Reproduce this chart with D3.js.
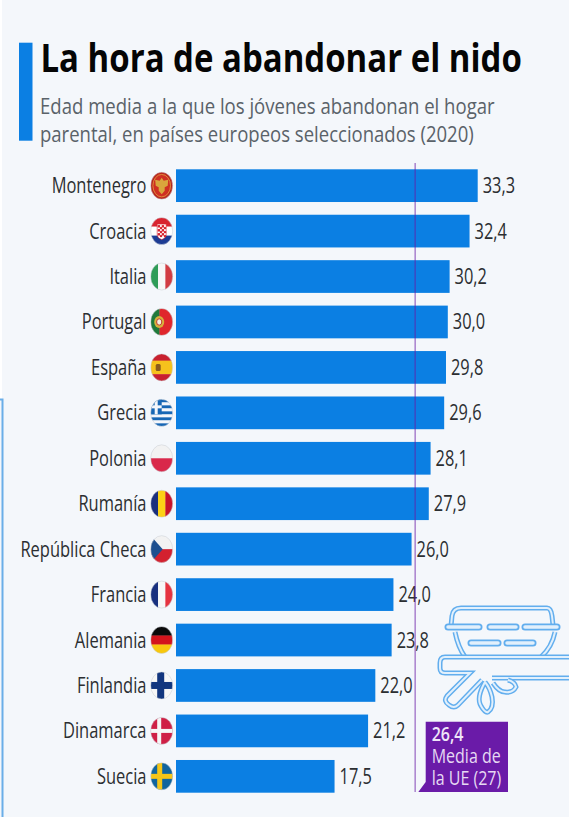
<!DOCTYPE html>
<html>
<head>
<meta charset="utf-8">
<script src="https://cdn.jsdelivr.net/npm/d3@7"></script>
<style>
  html, body { margin: 0; padding: 0; background: #f4f7fb; }
  svg { display: block; font-family: "Open Sans", sans-serif; }
</style>
</head>
<body>
<svg id="chart" width="569" height="817"></svg>
<script>
const countries = ['Montenegro', 'Croacia', 'Italia', 'Portugal', 'España', 'Grecia', 'Polonia', 'Rumanía',
  'República Checa', 'Francia', 'Alemania', 'Finlandia', 'Dinamarca', 'Suecia'];
const ages = [33.3, 32.4, 30.2, 30.0, 29.8, 29.6, 28.1, 27.9, 26.0, 24.0, 23.8, 22.0, 21.2, 17.5];
const euAverage = 26.4;
const euLabel = ['Media de', 'la UE (27)'];
const title = 'La hora de abandonar el nido';
const subtitle = ['Edad media a la que los jóvenes abandonan el hogar', 'parental, en países europeos seleccionados (2020)'];

const BLUE = '#0b7fe3';
const PURPLE = '#6a1ba8';
const fmt = (v) => v.toFixed(1).replace('.', ',');

const svg = d3.select('#chart');

let x = d3.scaleLinear().domain([0, 33.3]).range([176, 477.7]);
let y = d3.scaleBand().domain(countries).range([169.3, 792.7]).paddingInner(0.28).paddingOuter(0);

// white strip down the left edge, with the stray blue frame line below it
svg.append('rect').attr('x', 0).attr('y', 0).attr('width', 2).attr('height', 399).attr('fill', '#fff');
svg.append('path').attr('d', 'M0,399.5H2.5V817').attr('fill', 'none').attr('stroke', '#6aaee8').attr('stroke-width', 2);

// heading
svg.append('rect').attr('x', 19).attr('y', 42.7).attr('width', 13.5).attr('height', 98).attr('fill', BLUE);

// the reference is squeezed sideways, so measure each line and scale it to its width
function fitted(text, xPos, yPos, width, size, weight, color) {
  let t = svg.append('text')
    .attr('font-size', size).attr('font-weight', weight).attr('fill', color)
    .text(text);
  let k = width / t.node().getComputedTextLength();
  t.attr('transform', `translate(${xPos},${yPos}) scale(${k},1)`);
  return t;
}
fitted(title, 40.5, 72, 481.5, 40, 700, '#050505');
fitted(subtitle[0], 40, 113.5, 455, 22, 400, '#5a6269');
fitted(subtitle[1], 40, 142, 434, 22, 400, '#5a6269');

// bars
svg.append('g').selectAll('rect')
  .data(countries)
  .join('rect')
  .attr('x', x(0))
  .attr('y', (d) => y(d))
  .attr('width', (d, i) => x(ages[i]) - x(0))
  .attr('height', y.bandwidth())
  .attr('fill', BLUE);

// country names
svg.append('g').selectAll('text')
  .data(countries)
  .join('text')
  .attr('transform', (d) => `translate(146.5,${y(d) + y.bandwidth() / 2 + 7.5}) scale(0.785,1)`)
  .attr('text-anchor', 'end')
  .attr('font-size', 21)
  .attr('fill', '#2b2e31')
  .text((d) => d);

// value labels
svg.append('g').selectAll('text')
  .data(ages)
  .join('text')
  .attr('transform', (d, i) => `translate(${x(d) + 5},${y(countries[i]) + y.bandwidth() / 2 + 7.5}) scale(0.78,1)`)
  .attr('font-size', 21)
  .attr('fill', '#2b2e31')
  .text(fmt);

// flags, drawn in a box of 22 x 27 around the centre of the ellipse
const W = 11, H = 13.5;
function hStripes(g, colors, weights) {
  let total = d3.sum(weights), top = -H;
  colors.forEach((c, i) => {
    let h = 2 * H * weights[i] / total;
    g.append('rect').attr('x', -W).attr('y', top).attr('width', 2 * W).attr('height', h + 0.3).attr('fill', c);
    top += h;
  });
}
function vStripes(g, colors, weights) {
  let total = d3.sum(weights), left = -W;
  colors.forEach((c, i) => {
    let w = 2 * W * weights[i] / total;
    g.append('rect').attr('x', left).attr('y', -H).attr('width', w + 0.3).attr('height', 2 * H).attr('fill', c);
    left += w;
  });
}
function nordic(g, bg, cross, thick) {
  g.append('rect').attr('x', -W).attr('y', -H).attr('width', 2 * W).attr('height', 2 * H).attr('fill', bg);
  g.append('rect').attr('x', -W).attr('y', -thick / 2).attr('width', 2 * W).attr('height', thick).attr('fill', cross);
  g.append('rect').attr('x', -4.5).attr('y', -H).attr('width', thick).attr('height', 2 * H).attr('fill', cross);
}
const flags = {
  'Montenegro': (g) => {
    g.append('rect').attr('x', -W).attr('y', -H).attr('width', 2 * W).attr('height', 2 * H).attr('fill', '#cf2f22');
    g.append('ellipse').attr('rx', 10.2).attr('ry', 12.7).attr('fill', 'none').attr('stroke', '#b3261c').attr('stroke-width', 1.6);
    g.append('ellipse').attr('rx', 8.8).attr('ry', 11.2).attr('fill', 'none').attr('stroke', '#dd8a3a').attr('stroke-width', 1);
    g.append('path').attr('d', 'M0,-8L2,-5L6.5,-6L6,0L3,1.5L3,5L0,8.5L-3,5L-3,1.5L-6,0L-6.5,-6L-2,-5Z').attr('fill', '#d9a63c');
  },
  'Croacia': (g) => {
    hStripes(g, ['#d8232f', '#ffffff', '#1d3c94'], [1, 1, 1]);
    g.append('path').attr('d', 'M-4.5,-7H4.5V3Q4.5,7 0,8.5Q-4.5,7 -4.5,3Z').attr('fill', '#fff').attr('stroke', '#d8232f').attr('stroke-width', 0.6);
    [-6, -2, 2].forEach((cy) => [-4, 0].forEach((cx) => {
      g.append('rect').attr('x', cx).attr('y', cy).attr('width', 2.4).attr('height', 2.4).attr('fill', '#d8232f');
      g.append('rect').attr('x', cx + 2.2).attr('y', cy + 2).attr('width', 2.2).attr('height', 2).attr('fill', '#d8232f');
    }));
  },
  'Italia': (g) => vStripes(g, ['#2e9c57', '#f7f7f7', '#d23c42'], [1, 1, 1]),
  'Portugal': (g) => {
    vStripes(g, ['#1f7a3b', '#e0262c'], [2, 3]);
    g.append('ellipse').attr('cx', -2.5).attr('rx', 5).attr('ry', 6).attr('fill', '#d8b13c');
    g.append('ellipse').attr('cx', -2.5).attr('rx', 2.6).attr('ry', 3.2).attr('fill', '#f3f0e4').attr('stroke', '#c0392b').attr('stroke-width', 1);
  },
  'España': (g) => {
    hStripes(g, ['#c8202f', '#f6c21c', '#c8202f'], [1, 2, 1]);
    g.append('rect').attr('x', -6).attr('y', -3.5).attr('width', 5).attr('height', 7).attr('rx', 1.5).attr('fill', '#8a5a1e');
  },
  'Grecia': (g) => {
    hStripes(g, ['#1767b5', '#f5f7fb', '#1767b5', '#f5f7fb', '#1767b5', '#f5f7fb', '#1767b5', '#f5f7fb', '#1767b5'], [1, 1, 1, 1, 1, 1, 1, 1, 1]);
    g.append('rect').attr('x', -W).attr('y', -H).attr('width', 11).attr('height', 15).attr('fill', '#1767b5');
    g.append('rect').attr('x', -W).attr('y', -7.5).attr('width', 11).attr('height', 3).attr('fill', '#f5f7fb');
    g.append('rect').attr('x', -7).attr('y', -H).attr('width', 3).attr('height', 15).attr('fill', '#f5f7fb');
  },
  'Polonia': (g) => hStripes(g, ['#f2f2f2', '#d9284a'], [1, 1]),
  'Rumanía': (g) => vStripes(g, ['#1b2f7d', '#fcd116', '#c8132a'], [1, 1, 1]),
  'República Checa': (g) => {
    hStripes(g, ['#f2f2f2', '#d3212f'], [1, 1]);
    g.append('path').attr('d', `M${-W},${-H}L1,0L${-W},${H}Z`).attr('fill', '#1d4f8f');
  },
  'Francia': (g) => vStripes(g, ['#18307f', '#f7f7f7', '#e6333f'], [1, 1, 1]),
  'Alemania': (g) => hStripes(g, ['#0a0a0a', '#d3141c', '#f8c80e'], [1, 1, 1]),
  'Finlandia': (g) => nordic(g, '#f7f7f7', '#12367f', 7),
  'Dinamarca': (g) => nordic(g, '#cf1f45', '#f5f5f5', 4),
  'Suecia': (g) => nordic(g, '#11659e', '#f5c518', 5)
};

svg.append('defs').append('clipPath').attr('id', 'flag-clip')
  .append('ellipse').attr('rx', W).attr('ry', H);

countries.forEach((c) => {
  let g = svg.append('g')
    .attr('transform', `translate(161.7,${y(c) + y.bandwidth() / 2})`);
  let inner = g.append('g').attr('clip-path', 'url(#flag-clip)');
  flags[c](inner);
  g.append('ellipse').attr('rx', W).attr('ry', H).attr('fill', 'none').attr('stroke', '#c9ccd2').attr('stroke-width', 0.5);
});

// EU average line and its callout
svg.append('line')
  .attr('x1', x(euAverage)).attr('x2', x(euAverage))
  .attr('y1', 163).attr('y2', 792)
  .attr('stroke', PURPLE).attr('stroke-opacity', 0.5).attr('stroke-width', 1.6);

svg.append('path')
  .attr('d', 'M425.7,721.7H508V792H418.3L425.7,782Z')
  .attr('fill', PURPLE);

let callout = svg.append('text')
  .attr('transform', 'translate(431.7,741) scale(0.8,1)')
  .attr('font-size', 20).attr('fill', '#e6d9f3');
callout.append('tspan').attr('x', 0).attr('font-weight', 600).attr('fill', '#efe6f8').text(fmt(euAverage));
euLabel.forEach((s, i) => {
  callout.append('tspan').attr('x', 0).attr('dy', 22).text(s);
});

// nest watermark over the lower right corner
const nestLines = [
  'M451,626L452,616Q453,608 461,608H547Q551,608 552,616L553,625',
  'M455,632Q458,647 465,657',
  'M555,632Q552,647 541,657',
  'M569,657H445Q440,657 440,663V668Q440,673 445,673H470L447,696Q443,701 449,705Q454,709 458,705L482,680',
  'M569,678H492',
  'M485,682Q476,698 481,706Q485,713 488,712Q494,708 492,697Q490,688 485,682',
  'M493,683Q499,692 505,692Q513,693 516,687Q515,682 508,680'
];
const nestPills = [
  [448, 479, 627], [490, 516, 627], [525, 557, 627], [471, 498, 643], [507, 533, 643]
];
nestLines.forEach((d) => {
  svg.append('path').attr('d', d).attr('fill', 'none').attr('stroke', '#62aeee').attr('stroke-width', 5);
  svg.append('path').attr('d', d).attr('fill', 'none').attr('stroke', '#e2f0fc').attr('stroke-width', 2);
});
nestPills.forEach(([a, b, py]) => {
  svg.append('line').attr('x1', a).attr('x2', b).attr('y1', py).attr('y2', py)
    .attr('stroke', '#62aeee').attr('stroke-width', 7).attr('stroke-linecap', 'round');
  svg.append('line').attr('x1', a).attr('x2', b).attr('y1', py).attr('y2', py)
    .attr('stroke', '#e2f0fc').attr('stroke-width', 3.5).attr('stroke-linecap', 'round');
});
</script>
</body>
</html>
